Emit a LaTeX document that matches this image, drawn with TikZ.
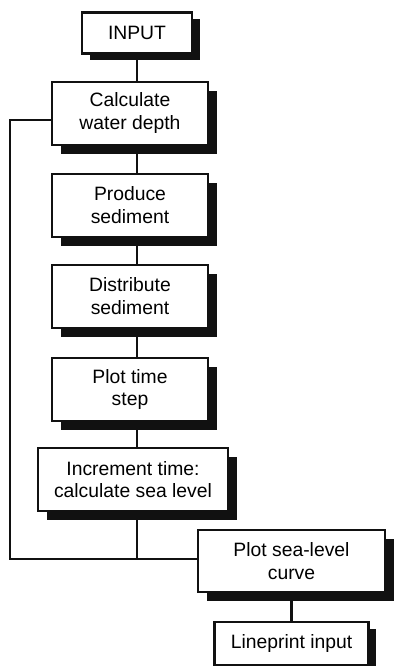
\documentclass[tikz,border=0pt]{standalone}
\usepackage{fontspec}
\setmainfont{Liberation Sans}
\usepackage{tikz}
\usetikzlibrary{shadows}
\usetikzlibrary{calc}
\usetikzlibrary{positioning}
\definecolor{fc-ink}{HTML}{111111}
\definecolor{fc-paper}{HTML}{FFFFFF}
\tikzset{basic/.style={draw=fc-ink, fill=fc-paper, line width=1.2pt, align=center, inner sep=2pt}}

\begin{document}
\begin{tikzpicture}[
    node distance=0.53cm,
    font=\fontsize{11pt}{13pt}\selectfont,
    line width=1.2pt
  ]

  % Global Style Definitions
  \tikzset{
    stepbox/.style={basic, minimum width=3.12cm, minimum height=1.26cm,
      drop shadow={shadow xshift=0.17cm, shadow yshift=-0.18cm, fill=fc-ink, opacity=1}},
    smallbox/.style={basic, minimum height=0.82cm,
      drop shadow={shadow xshift=0.15cm, shadow yshift=-0.14cm, fill=fc-ink, opacity=1}},
    link/.style={draw=fc-ink, line width=1.2pt}
  }

  \useasboundingbox (0,0) rectangle (8,-13.32);

  % Main loop nodes
  \node (input)   [smallbox, minimum width=2.2cm] at (2.74,-0.66) {INPUT};
  \node (depth)   [stepbox, below=0.52cm of input, xshift=-0.14cm] {Calculate\\water depth};
  \node (produce) [stepbox, below=0.54cm of depth] {Produce\\sediment};
  \node (distrib) [stepbox, below=0.52cm of produce] {Distribute\\sediment};
  \node (plotstep)[stepbox, below=0.56cm of distrib] {Plot time\\step};
  \node (incr)    [stepbox, minimum width=3.8cm, below=0.5cm of plotstep, xshift=0.06cm] {Increment time:\\calculate sea level};

  % Output branch
  \node (sealevel)  [stepbox, minimum width=3.74cm, minimum height=1.24cm, below=0.34cm of incr, xshift=3.17cm] {Plot sea-level\\curve};
  \node (lineprint) [smallbox, minimum width=3.08cm, minimum height=0.86cm, below=0.56cm of sealevel] {Lineprint input};

  % Spine and loop anchors
  \coordinate (spine) at (input.south);
  \coordinate (loop)  at (0.2,0);

  % Straight run down the spine
  \draw[link] (input.south) -- (spine |- depth.north);
  \draw[link] (spine |- depth.south) -- (spine |- produce.north);
  \draw[link] (spine |- produce.south) -- (spine |- distrib.north);
  \draw[link] (spine |- distrib.south) -- (spine |- plotstep.north);
  \draw[link] (spine |- plotstep.south) -- (spine |- incr.north);

  % Return loop and branch to the plot
  \draw[link] ([yshift=-0.13cm]depth.west) -- ([yshift=-0.13cm]depth.west -| loop) |- ([yshift=0.04cm]sealevel.west);
  \draw[link] (spine |- incr.south) -- ([yshift=0.04cm]spine |- sealevel.west);
  \draw[link] (sealevel.south) -- (lineprint.north);

\end{tikzpicture}
\end{document}
